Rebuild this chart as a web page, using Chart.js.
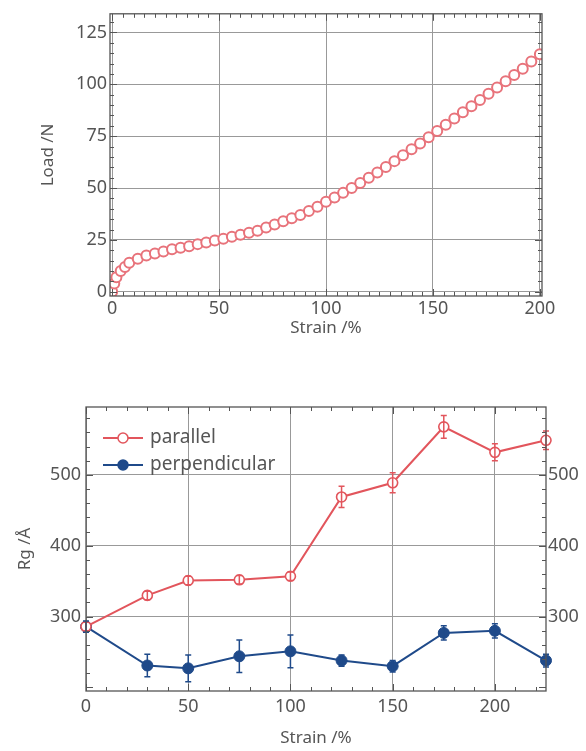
<!DOCTYPE html>
<html>
<head>
<meta charset="utf-8">
<script src="https://cdn.jsdelivr.net/npm/chart.js@4/dist/chart.umd.min.js"></script>
<style>
  body { margin: 0; background: #fff; }
  .wrap { position: relative; width: 586px; height: 751px; }
  canvas { position: absolute; left: 0; }
  #loadChart { top: 0; }
  #rgChart { top: 370px; }
</style>
</head>
<body>
<div class="wrap">
  <canvas id="loadChart" width="586" height="345"></canvas>
  <canvas id="rgChart" width="586" height="381"></canvas>
</div>
<script>
// top panel: load vs strain
const loadStrain = [0, 1, 2, 4, 6, 8, 12, 16, 20, 24, 28, 32, 36, 40, 44, 48, 52, 56, 60, 64,
  68, 72, 76, 80, 84, 88, 92, 96, 100, 104, 108, 112, 116, 120, 124, 128, 132, 136, 140,
  144, 148, 152, 156, 160, 164, 168, 172, 176, 180, 184, 188, 192, 196, 200];
const loadValues = [0, 4, 7, 10, 12, 14, 16, 17.5, 18.5, 19.5, 20.5, 21.3, 22, 23, 23.8, 24.7,
  25.6, 26.5, 27.5, 28.5, 29.5, 31, 32.5, 34, 35.5, 37, 39, 41, 43.4, 45.5, 47.7, 50, 52.5,
  55, 57.5, 60.2, 63, 65.8, 68.7, 71.5, 74.5, 77.5, 80.5, 83.5, 86.5, 89.5, 92.5, 95.5,
  98.5, 101.5, 104.5, 107.5, 111, 114.5];
const loadTicksX = [0, 50, 100, 150, 200];
const loadTicksY = [0, 25, 50, 75, 100, 125];

// bottom panel: Rg vs strain
const rgStrain = [0, 30, 50, 75, 100, 125, 150, 175, 200, 225];
const parallelRg = [286, 330, 351, 352, 357, 469, 489, 568, 532, 549];
const parallelErr = [6, 6, 6, 6, 6, 15, 14, 16, 12, 13];
const perpRg = [286, 231, 227, 244, 251, 238, 230, 277, 280, 238];
const perpErr = [8, 16, 19, 23, 23, 8, 8, 10, 10, 9];
const rgTicksX = [0, 50, 100, 150, 200];
const rgTicksY = [300, 400, 500];
const seriesNames = ["parallel", "perpendicular"];

const FONT = "'Noto Sans', sans-serif";
const TEXT = "#555";
const GRID = "#999";
const FRAME = "#555";
const RED = "#e2555c";
const BLUE = "#1f4a8a";

const toPoints = (xs, ys) => xs.map((x, i) => ({ x, y: ys[i] }));
const fixTicks = (list) => (axis) => {
  axis.ticks = list.map((v) => ({ value: v }));
};

// frame + inward ticks on all four sides
const frameTicks = {
  id: "frameTicks",
  afterDraw(chart, args, opts) {
    const { ctx, chartArea: a, scales } = chart;
    const x = scales.x;
    const y = scales.y;
    ctx.save();
    ctx.strokeStyle = FRAME;
    ctx.lineWidth = 1;
    const line = (x1, y1, x2, y2) => {
      ctx.beginPath();
      ctx.moveTo(x1, y1);
      ctx.lineTo(x2, y2);
      ctx.stroke();
    };
    const minor = (start, step, max, fn) => {
      for (let v = start; v <= max + 1e-9; v += step) fn(v);
    };
    minor(Math.ceil(x.min / opts.xStep) * opts.xStep, opts.xStep, x.max, (v) => {
      const px = Math.round(x.getPixelForValue(v)) + 0.5;
      const len = v % opts.xMajor === 0 ? 7 : 4;
      line(px, a.bottom, px, a.bottom - len);
      line(px, a.top, px, a.top + len);
    });
    minor(Math.ceil(y.min / opts.yStep) * opts.yStep, opts.yStep, y.max, (v) => {
      const py = Math.round(y.getPixelForValue(v)) + 0.5;
      const len = v % opts.yMajor === 0 ? 7 : 4;
      line(a.left, py, a.left + len, py);
      line(a.right, py, a.right - len, py);
    });
    ctx.lineWidth = 1.3;
    ctx.strokeRect(a.left, a.top, a.right - a.left, a.bottom - a.top);
    ctx.restore();
  },
};

// vertical error bars with caps
const errorBars = {
  id: "errorBars",
  afterDatasetsDraw(chart, args, opts) {
    const { ctx, scales } = chart;
    ctx.save();
    opts.errors.forEach((errs, di) => {
      const ds = chart.data.datasets[di];
      ctx.strokeStyle = ds.borderColor;
      ctx.lineWidth = 1.5;
      ds.data.forEach((p, i) => {
        const px = scales.x.getPixelForValue(p.x);
        const top = scales.y.getPixelForValue(p.y + errs[i]);
        const bot = scales.y.getPixelForValue(p.y - errs[i]);
        ctx.beginPath();
        ctx.moveTo(px, top);
        ctx.lineTo(px, bot);
        ctx.moveTo(px - 3, top);
        ctx.lineTo(px + 3, top);
        ctx.moveTo(px - 3, bot);
        ctx.lineTo(px + 3, bot);
        ctx.stroke();
      });
    });
    ctx.restore();
  },
};

// legend drawn inside the plot, line with marker through it
const innerLegend = {
  id: "innerLegend",
  afterDraw(chart, args, opts) {
    const { ctx } = chart;
    ctx.save();
    ctx.font = `19px ${FONT}`;
    ctx.textBaseline = "middle";
    chart.data.datasets.forEach((ds, i) => {
      const yy = opts.y + i * opts.gap;
      ctx.strokeStyle = ds.borderColor;
      ctx.lineWidth = 2;
      ctx.beginPath();
      ctx.moveTo(opts.x, yy);
      ctx.lineTo(opts.x + 40, yy);
      ctx.stroke();
      ctx.beginPath();
      ctx.arc(opts.x + 20, yy, 5, 0, Math.PI * 2);
      ctx.fillStyle = ds.pointBackgroundColor;
      ctx.fill();
      ctx.lineWidth = 1.5;
      ctx.stroke();
      ctx.fillStyle = TEXT;
      ctx.fillText(ds.label, opts.x + 47, yy);
    });
    ctx.restore();
  },
};

const tickFont = { family: FONT, size: 18 };
const titleFont = { family: FONT, size: 17 };

new Chart(document.getElementById("loadChart"), {
  type: "scatter",
  data: {
    datasets: [
      {
        label: "Load",
        data: toPoints(loadStrain, loadValues),
        showLine: false,
        pointRadius: 5,
        pointBorderWidth: 2,
        pointBackgroundColor: "#fff",
        pointBorderColor: "#e8737b",
        borderColor: "#e8737b",
      },
    ],
  },
  options: {
    responsive: false,
    animation: false,
    layout: { padding: { top: 9, right: 44, left: 0, bottom: 0 } },
    plugins: {
      legend: { display: false },
      tooltip: { enabled: false },
      frameTicks: { xStep: 5, xMajor: 50, yStep: 5, yMajor: 25 },
    },
    scales: {
      x: {
        type: "linear",
        min: -1,
        max: 201,
        afterBuildTicks: fixTicks(loadTicksX),
        afterFit: (s) => { s.height = 49; },
        grid: { color: GRID, drawTicks: false },
        border: { display: false },
        ticks: { font: tickFont, color: TEXT, padding: 2 },
        title: { display: true, text: "Strain /%", font: titleFont, color: TEXT, padding: { top: 0, bottom: 7 } },
      },
      y: {
        type: "linear",
        min: -2,
        max: 134,
        afterBuildTicks: fixTicks(loadTicksY),
        afterFit: (s) => { s.width = 110; },
        grid: { color: GRID, drawTicks: false },
        border: { display: false },
        ticks: { font: tickFont, color: TEXT, padding: 3 },
        title: { display: true, text: "Load /N", font: titleFont, color: TEXT, padding: { top: 38, bottom: 0 } },
      },
    },
  },
  plugins: [frameTicks],
});

new Chart(document.getElementById("rgChart"), {
  type: "scatter",
  data: {
    datasets: [
      {
        label: seriesNames[0],
        data: toPoints(rgStrain, parallelRg),
        showLine: true,
        borderColor: RED,
        borderWidth: 2,
        pointRadius: 5,
        pointBorderWidth: 1.6,
        pointBackgroundColor: "#fff",
        pointBorderColor: RED,
      },
      {
        label: seriesNames[1],
        data: toPoints(rgStrain, perpRg),
        showLine: true,
        borderColor: BLUE,
        borderWidth: 2,
        pointRadius: 5.5,
        pointBorderWidth: 1,
        pointBackgroundColor: BLUE,
        pointBorderColor: BLUE,
      },
    ],
  },
  options: {
    responsive: false,
    animation: false,
    clip: false,
    layout: { padding: { top: 37, right: 0, left: 0, bottom: 0 } },
    plugins: {
      legend: { display: false },
      tooltip: { enabled: false },
      frameTicks: { xStep: 10, xMajor: 50, yStep: 20, yMajor: 100 },
      errorBars: { errors: [parallelErr, perpErr] },
      innerLegend: { x: 103, y: 68, gap: 27 },
    },
    scales: {
      x: {
        type: "linear",
        min: 0,
        max: 225,
        afterBuildTicks: fixTicks(rgTicksX),
        afterFit: (s) => { s.height = 60; },
        grid: { color: GRID, drawTicks: false },
        border: { display: false },
        ticks: { font: tickFont, color: TEXT, padding: 5 },
        title: { display: true, text: "Strain /%", font: titleFont, color: TEXT, padding: { top: 0, bottom: 3 } },
      },
      y: {
        type: "linear",
        min: 195,
        max: 596,
        afterBuildTicks: fixTicks(rgTicksY),
        afterFit: (s) => { s.width = 86; },
        grid: { color: GRID, drawTicks: false },
        border: { display: false },
        ticks: { font: tickFont, color: TEXT, padding: 5 },
        title: { display: true, text: "Rg /Å", font: titleFont, color: TEXT, padding: { top: 15, bottom: 0 } },
      },
      y2: {
        type: "linear",
        position: "right",
        min: 195,
        max: 596,
        afterBuildTicks: fixTicks(rgTicksY),
        afterFit: (s) => { s.width = 40; },
        grid: { display: false, drawTicks: false },
        border: { display: false },
        ticks: { font: tickFont, color: TEXT, padding: 2 },
      },
    },
  },
  plugins: [frameTicks, errorBars, innerLegend],
});
</script>
</body>
</html>
